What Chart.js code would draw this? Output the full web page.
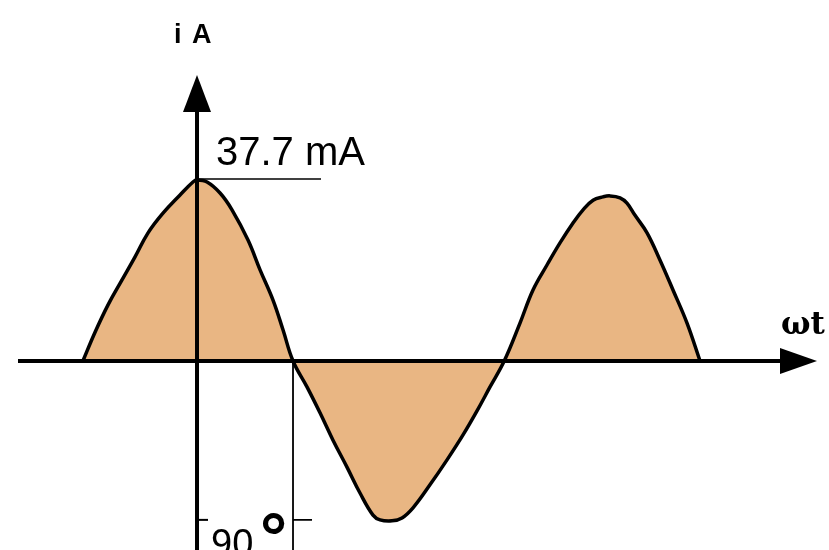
<!DOCTYPE html>
<html>
<head>
<meta charset="utf-8">
<title>i(ωt)</title>
<script src="https://cdn.jsdelivr.net/npm/chart.js"></script>
<style>
    html, body { margin: 0; padding: 0; background: #fff; }
    #wrap { position: relative; width: 829px; height: 550px; }
</style>
</head>
<body>
<div id="wrap"><canvas id="waveChart" width="829" height="550"></canvas></div>
<script>
// Phase angle in degrees (0 = vertical axis, 90 = first zero crossing)
const phaseDeg = [
    -107, -95.6, -83.4, -70.3, -58.1, -45.9, -31.9, -15.9, -3.8, 0, 9.4, 21.6, 32.8, 47.8, 59.1, 71.25, 80.6, 90,
    103.1, 115.3, 127.5, 140.6, 152.8, 165, 171.6, 182.8, 192.2, 202.5, 218.4, 234.4, 249.4, 262.5, 274.7, 288,
    302.8, 315, 328.1, 340.3, 352.5, 361.9, 371.3, 380.6, 387.2, 396.6, 403.1, 410.5, 421.9, 434.1, 446.25, 459.4, 471.6
];

// Current in mA at each phase angle
const currentMA = [
    0, 6.0, 11.7, 16.9, 21.7, 26.7, 30.8, 34.6, 37.3, 37.7, 37.3, 35.0, 31.5, 25.2, 19.0, 12.7, 6.5, 0,
    -5.4, -10.8, -16.5, -22.1, -27.5, -32.1, -33.1, -33.3, -32.7, -30.6, -25.8, -20.6, -15.4, -10.4, -5.4, 0,
    7.9, 14.8, 20.0, 24.6, 28.75, 31.5, 33.5, 34.2, 34.4, 34.0, 32.9, 30.4, 26.7, 21.0, 14.8, 7.9, 0
];

const peakLabel = '37.7 mA';
const peakValue = 37.7;
const markDeg = 90;
const troughValue = -33.1;

const points = phaseDeg.map((x, i) => ({ x: x, y: currentMA[i] }));

/**
 * Axes with arrowheads, the peak marker and the 90° marker
 */
const annotations = {
    id: 'annotations',
    afterDatasetsDraw(chart) {
        const ctx = chart.ctx;
        const xs = chart.scales.x;
        const ys = chart.scales.y;
        const x0 = xs.getPixelForValue(0);
        const y0 = ys.getPixelForValue(0);
        const x90 = xs.getPixelForValue(markDeg);
        const yPeak = ys.getPixelForValue(peakValue);
        const yLow = ys.getPixelForValue(troughValue);

        ctx.save();
        ctx.strokeStyle = '#000';
        ctx.fillStyle = '#000';

        // Horizontal axis
        ctx.lineWidth = 4;
        ctx.beginPath();
        ctx.moveTo(18, y0);
        ctx.lineTo(790, y0);
        ctx.stroke();
        ctx.beginPath();
        ctx.moveTo(817, y0);
        ctx.lineTo(780, y0 - 13);
        ctx.lineTo(780, y0 + 13);
        ctx.closePath();
        ctx.fill();

        // Vertical axis
        ctx.beginPath();
        ctx.moveTo(x0, 100);
        ctx.lineTo(x0, 550);
        ctx.stroke();
        ctx.beginPath();
        ctx.moveTo(x0, 75);
        ctx.lineTo(x0 - 14, 112);
        ctx.lineTo(x0 + 14, 112);
        ctx.closePath();
        ctx.fill();

        // Peak marker line
        ctx.lineWidth = 1.5;
        ctx.beginPath();
        ctx.moveTo(x0, yPeak - 1);
        ctx.lineTo(321, yPeak - 1);
        ctx.stroke();

        // 90 degree marker
        ctx.lineWidth = 1.8;
        ctx.beginPath();
        ctx.moveTo(x90, y0);
        ctx.lineTo(x90, 550);
        ctx.moveTo(x90, yLow);
        ctx.lineTo(x90 + 19, yLow);
        ctx.stroke();
        ctx.lineWidth = 2;
        ctx.beginPath();
        ctx.moveTo(x0, yLow);
        ctx.lineTo(x0 + 11, yLow);
        ctx.stroke();

        // Labels
        ctx.textBaseline = 'alphabetic';
        ctx.textAlign = 'left';
        ctx.font = 'bold 27px "Liberation Sans", Arial, sans-serif';
        ctx.fillText('i', 174, 43);
        ctx.fillText('A', 192, 43);

        ctx.font = '40px "Liberation Sans", Arial, sans-serif';
        ctx.fillText(peakLabel, 216, 165);

        ctx.font = '38px "Liberation Sans", Arial, sans-serif';
        ctx.fillText('90', 211, 556);
        ctx.font = 'bold 68px "Liberation Sans", Arial, sans-serif';
        ctx.fillText('°', 260, 561);

        ctx.font = 'bold 31px "DejaVu Serif", serif';
        ctx.fillText('ωt', 781, 334);
        ctx.restore();
    }
};

new Chart(document.getElementById('waveChart').getContext('2d'), {
    type: 'line',
    data: {
        datasets: [{
            data: points,
            borderColor: '#000',
            borderWidth: 3.5,
            backgroundColor: '#e9b683',
            fill: 'origin',
            tension: 0.4,
            pointRadius: 0
        }]
    },
    options: {
        responsive: false,
        animation: false,
        layout: { padding: 0 },
        plugins: {
            legend: { display: false },
            tooltip: { enabled: false }
        },
        scales: {
            x: {
                type: 'linear',
                display: false,
                min: -184.7,
                max: 592.5
            },
            y: {
                type: 'linear',
                display: false,
                min: -39.375,
                max: 75.208
            }
        }
    },
    plugins: [annotations]
});
</script>
</body>
</html>
